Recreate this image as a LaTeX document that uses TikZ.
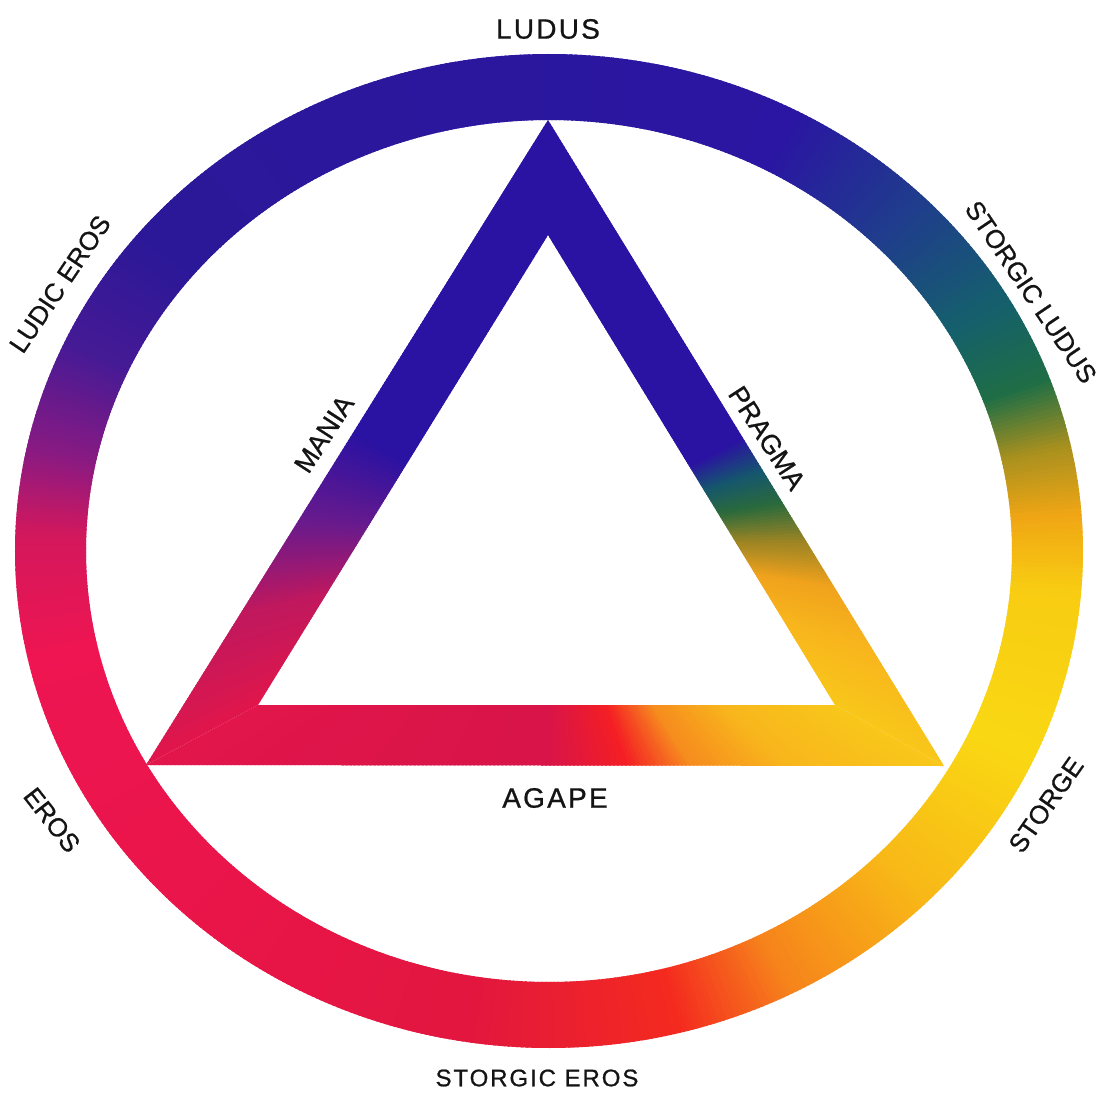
\documentclass[tikz,border=0pt]{standalone}
\usepackage{fontspec}
\setmainfont{Liberation Sans}
\newfontfamily\lblfont[FakeBold=0.8]{Liberation Sans}
\newfontfamily\lblwidefont[FakeBold=0.8,LetterSpace=8]{Liberation Sans}
\usetikzlibrary{calc}

% ring colours, by angle
\definecolor{ringCrimson}{HTML}{E2163F}
\definecolor{ringRed}{HTML}{F42A1F}
\definecolor{ringOrange}{HTML}{F6841B}
\definecolor{ringAmber}{HTML}{F8B817}
\definecolor{ringYellow}{HTML}{F9D813}
\definecolor{ringYellowB}{HTML}{F8CC12}
\definecolor{ringGold}{HTML}{F0A614}
\definecolor{ringOlive}{HTML}{A8901F}
\definecolor{ringGreen}{HTML}{1F6E45}
\definecolor{ringTeal}{HTML}{15606C}
\definecolor{ringSteel}{HTML}{1F3D8C}
\definecolor{ringBlue}{HTML}{2A16A2}
\definecolor{ringBlueB}{HTML}{2B1898}
\definecolor{ringIndigo}{HTML}{461A95}
\definecolor{ringPurple}{HTML}{8A1A82}
\definecolor{ringMagenta}{HTML}{D4185C}
\definecolor{ringPink}{HTML}{EE1552}
\definecolor{ringPinkB}{HTML}{E91549}
% triangle colours
\definecolor{triBlue}{HTML}{2A12A2}
\definecolor{triPurple}{HTML}{6A1A8C}
\definecolor{triMagenta}{HTML}{C0185E}
\definecolor{triCrimson}{HTML}{E2164A}
\definecolor{triCrimsonB}{HTML}{D81449}
\definecolor{triRed}{HTML}{F41E24}
\definecolor{triOrange}{HTML}{F68C1E}
\definecolor{triTeal}{HTML}{15566E}
\definecolor{triGreen}{HTML}{2A6A3C}
\definecolor{triOlive}{HTML}{9C8424}
\definecolor{triOrangeB}{HTML}{F0A21C}
\definecolor{triGold}{HTML}{F8B61C}
\definecolor{triYellow}{HTML}{F8C81A}
\definecolor{lblText}{HTML}{141414}

\begin{document}
\begin{tikzpicture}[x=1pt, y=1pt,
  lbl/.style={font=\lblfont\fontsize{26}{30}\selectfont, text=lblText, inner sep=0pt},
  lblwide/.style={font=\lblwidefont\fontsize{28}{32}\selectfont, text=lblText, inner sep=0pt}]
\useasboundingbox (-549,-541) rectangle (550,551);

% ring, two slices per degree
\foreach \a/\b/\ca/\cb in {-100/-76/ringCrimson/ringRed, -76/-63/ringRed/ringOrange, -63/-45/ringOrange/ringAmber, -45/-25/ringAmber/ringYellow, -25/-5/ringYellow/ringYellowB, -5/4/ringYellowB/ringGold, 4/12/ringGold/ringOlive, 12/20/ringOlive/ringGreen, 20/30/ringGreen/ringTeal, 30/45/ringTeal/ringSteel, 45/62/ringSteel/ringBlue, 62/140/ringBlue/ringBlueB, 140/155/ringBlueB/ringIndigo, 155/168/ringIndigo/ringPurple, 168/178/ringPurple/ringMagenta, 178/192/ringMagenta/ringPink, 192/230/ringPink/ringPinkB, 230/260/ringPinkB/ringCrimson} {
  \pgfmathtruncatemacro\n{2*(\b-\a)-1}
  \foreach \k in {0,...,\n} {
    \pgfmathtruncatemacro\t{50*\k/(\b-\a)}
    \pgfmathsetmacro\s{\a+\k/2}
    \fill[\cb!\t!\ca] (\s:534 and 497) -- (\s+0.8:534 and 497) -- (\s+0.8:463 and 431) -- (\s:463 and 431) -- cycle;
  }
}

% triangle corners
\coordinate (A) at (-1,431);
\coordinate (BL) at (-403,-214);
\coordinate (BR) at (395,-215);
\coordinate (a) at (-1,316);
\coordinate (bl) at (-291,-154);
\coordinate (br) at (286,-154);

% triangle sides, sliced along their length
\foreach \P/\Q/\p/\q/\stops in {A/BL/a/bl/{0/48/triBlue/triBlue, 48/62/triBlue/triPurple, 62/76/triPurple/triMagenta, 76/100/triMagenta/triCrimson},
  A/BR/a/br/{0/49/triBlue/triBlue, 49/54/triBlue/triTeal, 54/59/triTeal/triGreen, 59/65/triGreen/triOlive, 65/72/triOlive/triOrangeB, 72/82/triOrangeB/triGold, 82/100/triGold/triYellow},
  BL/BR/bl/br/{0/50/triCrimson/triCrimsonB, 50/60/triCrimsonB/triRed, 60/68/triRed/triOrange, 68/80/triOrange/triGold, 80/100/triGold/triYellow}} {
  \foreach \ta/\tb/\ca/\cb in \stops {
    \pgfmathtruncatemacro\n{2*(\tb-\ta)-1}
    \foreach \k in {0,...,\n} {
      \pgfmathtruncatemacro\t{50*\k/(\tb-\ta)}
      \pgfmathsetmacro\u{(\ta+\k/2)/100}
      \pgfmathsetmacro\v{min(\ta+\k/2+0.8,100)/100}
      \fill[\cb!\t!\ca] ($(\P)!\u!(\Q)$) -- ($(\P)!\v!(\Q)$) -- ($(\p)!\v!(\q)$) -- ($(\p)!\u!(\q)$) -- cycle;
    }
  }
}

% labels
\node[lblwide] (ludus) at (-1,522) {LUDUS};
\node[lbl, rotate=56] (ludiceros) at (-489,267) {LUDIC EROS};
\node[lbl, rotate=-56] (storgicludus) at (482,259) {STORGIC LUDUS};
\node[lbl, rotate=-52] (eros) at (-497,-269) {EROS};
\node[lbl, rotate=55] (storge) at (497,-254) {STORGE};
\node[lbl, rotate=57, font=\lblfont\fontsize{27}{30}\selectfont] (mania) at (-225,117) {MANIA};
\node[lbl, rotate=-57, font=\lblfont\fontsize{27}{30}\selectfont] (pragma) at (218,113) {PRAGMA};
\node[lblwide] (agape) at (6,-247) {AGAPE};
\node[lblwide, font=\lblwidefont\fontsize{24}{28}\selectfont] (storgiceros) at (-12,-527) {STORGIC EROS};
\end{tikzpicture}
\end{document}
